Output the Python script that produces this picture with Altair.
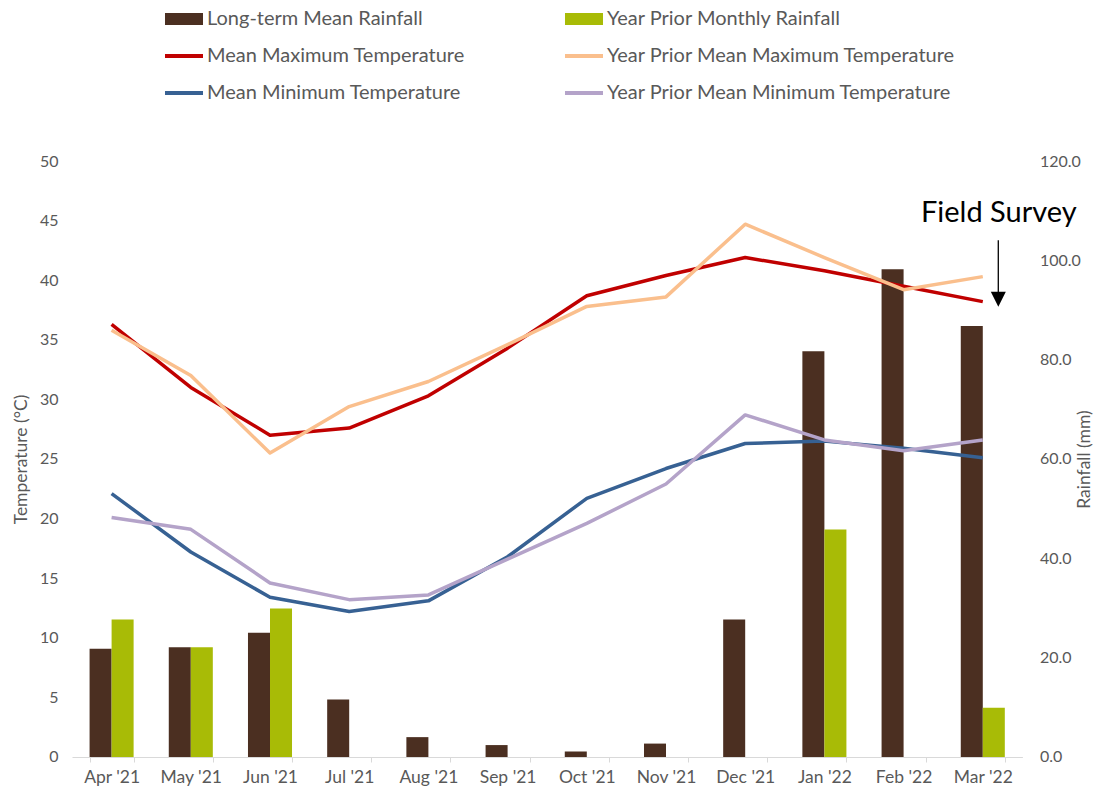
import altair as alt
import pandas as pd

# ---- data -------------------------------------------------------------
months = ["Apr '21", "May '21", "Jun '21", "Jul '21", "Aug '21", "Sep '21",
          "Oct '21", "Nov '21", "Dec '21", "Jan '22", "Feb '22", "Mar '22"]

longterm_rain = [21.8, 22.1, 25.0, 11.6, 4.0, 2.4, 1.1, 2.7, 27.7, 81.7, 98.2, 86.8]
prior_rain = [27.7, 22.1, 29.9, None, None, None, None, None, None, 45.8, None, 9.9]

mean_max = [36.3, 31.0, 27.0, 27.6, 30.3, 34.3, 38.7, 40.4, 41.9, 40.8, 39.5, 38.2]
prior_max = [35.8, 32.0, 25.5, 29.4, 31.5, 34.6, 37.8, 38.6, 44.7, 41.9, 39.2, 40.3]
mean_min = [22.1, 17.2, 13.4, 12.2, 13.1, 16.8, 21.7, 24.2, 26.3, 26.5, 25.9, 25.1]
prior_min = [20.1, 19.1, 14.6, 13.2, 13.6, 16.6, 19.6, 22.9, 28.7, 26.6, 25.7, 26.6]

bar_series = ["Long-term Mean Rainfall", "Year Prior Monthly Rainfall"]
bar_colors = ["#4b2f21", "#a8bb06"]
line_series = ["Mean Maximum Temperature", "Mean Minimum Temperature",
               "Year Prior Mean Maximum Temperature", "Year Prior Mean Minimum Temperature"]
line_colors = ["#c00000", "#376193", "#fabf8d", "#b4a3c9"]

survey_month = "Mar '22"
survey_label = "Field Survey"

GREY = "#595959"
FONT = "Lato"

# ---- long tables --------------------------------------------------------
rain_rows = []
for name, vals in zip(bar_series, [longterm_rain, prior_rain]):
    for m, v in zip(months, vals):
        if v is not None:
            rain_rows.append({"month": m, "series": name, "rain": v})
rain_df = pd.DataFrame(rain_rows)

temp_rows = []
for name, vals in zip(line_series, [mean_max, mean_min, prior_max, prior_min]):
    for m, v in zip(months, vals):
        temp_rows.append({"month": m, "series": name, "temp": v})
temp_df = pd.DataFrame(temp_rows)

# ---- shared encodings ----------------------------------------------------
x_axis = alt.Axis(domain=True, ticks=True, domainColor="#d9d9d9", tickColor="#d9d9d9",
                  tickSize=5, tickBand="extent", labelAngle=0, labelPadding=7,
                  labelFontSize=17.5)
x_scale = alt.Scale(paddingInner=0.444, paddingOuter=0.222)

temp_scale = alt.Scale(domain=[0, 50], nice=False)
temp_axis = alt.Axis(values=list(range(0, 51, 5)), labelPadding=14, titlePadding=9)
TEMP_TITLE = "Temperature (\u00b0C)"


def month_x(axis=False):
    if axis:
        return alt.X("month:N", sort=months, scale=x_scale, axis=x_axis, title=None)
    return alt.X("month:N", sort=months, title=None)


# ---- rainfall bars (right axis) ------------------------------------------
bars = alt.Chart(rain_df).mark_bar().encode(
    x=month_x(axis=True),
    xOffset=alt.XOffset("series:N", sort=bar_series, scale=alt.Scale(domain=bar_series)),
    y=alt.Y("rain:Q", title="Rainfall (mm)",
            scale=alt.Scale(domain=[0, 120], nice=False),
            axis=alt.Axis(orient="right", values=list(range(0, 121, 20)), format=".1f",
                          labelPadding=17, titlePadding=13, titleAngle=270)),
    fill=alt.Fill("series:N", scale=alt.Scale(domain=bar_series, range=bar_colors), legend=None),
)

# ---- temperature lines (left axis) ---------------------------------------
lines = alt.Chart(temp_df).mark_line(strokeWidth=3.5, strokeJoin="round").encode(
    x=month_x(),
    y=alt.Y("temp:Q", title=TEMP_TITLE, scale=temp_scale, axis=temp_axis),
    stroke=alt.Stroke("series:N", sort=line_series,
                      scale=alt.Scale(domain=line_series, range=line_colors), legend=None),
)

# ---- field survey annotation ----------------------------------------------
ann_df = pd.DataFrame({"month": [survey_month], "label": [survey_label]})
ann = alt.Chart(ann_df)

ann_text = ann.mark_text(font=FONT, fontSize=29, color="black", align="center",
                         baseline="alphabetic", dx=16).encode(
    x=month_x(),
    y=alt.YDatum(44.9, title=TEMP_TITLE, scale=temp_scale, axis=temp_axis),
    text="label:N",
)
ann_rule = ann.mark_rule(color="black", strokeWidth=1.3, xOffset=15.5).encode(
    x=month_x(),
    y=alt.YDatum(43.35, title=TEMP_TITLE, scale=temp_scale, axis=temp_axis),
    y2=alt.Y2Datum(39.0),
)
ann_head = ann.mark_point(shape="M-1,-1L1,-1L0,1Z", filled=True, color="black", opacity=1,
                          size=225, xOffset=15.5).encode(
    x=month_x(),
    y=alt.YDatum(38.4, title=TEMP_TITLE, scale=temp_scale, axis=temp_axis),
)

temp_layer = alt.layer(lines, ann_rule, ann_head, ann_text)

main = alt.layer(bars, temp_layer).resolve_scale(y="independent").properties(
    width=950.4, height=596
)

# ---- legend (two columns, three rows) --------------------------------------
leg_labels = [bar_series[0], bar_series[1], line_series[0], line_series[2],
              line_series[1], line_series[3]]
leg_colors = [bar_colors[0], bar_colors[1], line_colors[0], line_colors[2],
              line_colors[1], line_colors[3]]
leg_df = pd.DataFrame({
    "label": leg_labels,
    "hex": leg_colors,
    "kind": ["bar", "bar", "line", "line", "line", "line"],
    "col": [0, 1, 0, 1, 0, 1],
    "row": [0, 0, 1, 1, 2, 2],
})

leg_base = alt.Chart(leg_df).encode(
    x=alt.X("col:Q", axis=None, scale=alt.Scale(domain=[0, 1], range=[112, 512])),
    y=alt.Y("row:Q", axis=None, scale=alt.Scale(domain=[0, 2], range=[0, 74])),
)
leg_bar = leg_base.transform_filter(alt.datum.kind == "bar").mark_tick(
    orient="horizontal", size=38, thickness=12, opacity=1
).encode(color=alt.Color("hex:N", scale=None))
leg_line = leg_base.transform_filter(alt.datum.kind == "line").mark_tick(
    orient="horizontal", size=38, thickness=4, opacity=1
).encode(color=alt.Color("hex:N", scale=None))
leg_text = leg_base.mark_text(align="left", baseline="middle", dx=23, font=FONT,
                              fontSize=20, color=GREY).encode(text="label:N")

legend = alt.layer(leg_bar, leg_line, leg_text).properties(width=950.4, height=74)

chart = alt.vconcat(legend, main, spacing=50, padding={"left": 12, "top": 9, "right": 0, "bottom": 0}).configure_view(
    stroke=None
).configure_axis(
    labelFont=FONT, titleFont=FONT, labelColor=GREY, titleColor=GREY,
    labelFontSize=16, titleFontSize=17.5, titleFontWeight="normal",
    grid=False, domain=False, ticks=False,
)

chart.save("out.html", embed_options={"renderer": "svg", "actions": False})
